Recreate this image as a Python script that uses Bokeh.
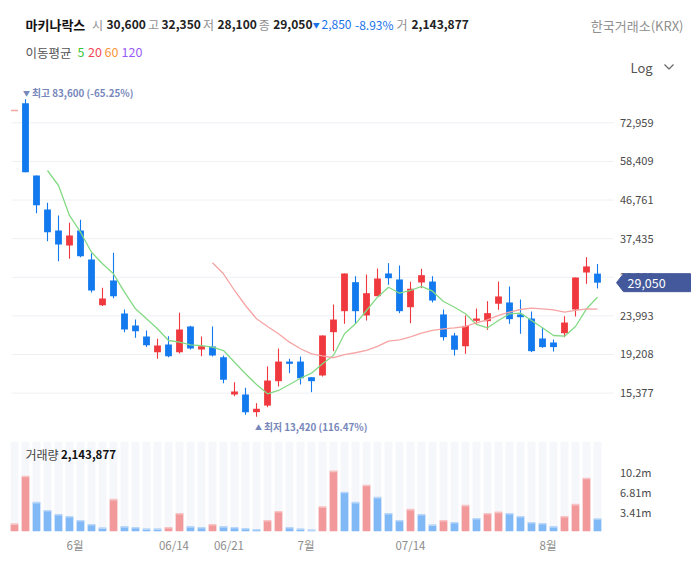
import math
from bokeh.plotting import figure
from bokeh.models import Range1d, FixedTicker, ColumnDataSource
from bokeh.layouts import column
from bokeh.embed import file_html
from bokeh.resources import INLINE
from bokeh.core.properties import value

NAN = float("nan")

# ------------------------------------------------------------------ data
stock_name = "마키나락스"
exchange = "한국거래소(KRX)"
ma_periods = ["5", "20", "60", "120"]

opens = [NAN, 81700, 53850, 44280, 39230, 35980, 39230, 33200, 25510, 29420,
         24330, 22700, 21300, 19470, 20350, 19470, 22570, 19770, 20120, 18910,
         15260, 15260, 13780, 14310, 16470, 18440, 18440, 16850, 17020, 21840,
         24650, 29130, 24050, 26870, 30630, 29590, 25220, 29080, 29240, 24190,
         21430, 20140, 23320, 23270, 25730, 25920, 24190, 23630, 21060, 20580,
         21710, 24890, 30800, 30600]
highs = [NAN, 83600, 53850, 46020, 42780, 41010, 41730, 34420, 28200, 34500,
         24890, 23490, 22060, 21030, 21340, 24420, 22650, 21300, 22570, 19090,
         16370, 15850, 14510, 17930, 19880, 18740, 18980, 16850, 21430, 25620,
         30630, 30150, 30450, 31520, 32500, 32070, 29200, 31470, 30150, 24890,
         21760, 24050, 25030, 26110, 29240, 28420, 26360, 24600, 22400, 20940,
         23950, 29930, 33640, 32350]
lows = [NAN, 54900, 43350, 36890, 32880, 33340, 33640, 27460, 25400, 26560,
        21840, 21140, 20040, 18740, 18910, 19320, 19770, 19020, 18980, 16280,
        15100, 13570, 13420, 14180, 15970, 17250, 16160, 15460, 16920, 19580,
        22920, 22920, 23360, 26870, 28700, 24370, 23000, 28140, 25920, 20820,
        19090, 19280, 22830, 22140, 24850, 22920, 21640, 19470, 19970, 19540,
        21220, 23900, 28860, 28100]
closes = [NAN, 54900, 45400, 38850, 36200, 38120, 33840, 27770, 26510, 26870,
          22180, 21960, 20260, 20220, 19020, 22180, 19880, 20140, 19090, 16600,
          15520, 13780, 14050, 16530, 18440, 18200, 16750, 16470, 21430, 23490,
          30630, 24650, 27340, 29750, 29800, 24650, 28050, 30330, 26210, 21220,
          19740, 22650, 23630, 24370, 26830, 23540, 23810, 19580, 20040, 20040,
          23090, 29930, 31900, 29050]

ma5 = [NAN, NAN, NAN, 55430, 50840, 42780, 38850, 34620, 32390, 30570,
       27500, 24990, 23600, 22270, 20820, 20620, 20310, 20220, 20050, 19650,
       18370, 17190, 16160, 15310, 15610, 16160, 16750, 17250, 18200, 19090,
       21640, 22920, 24750, 26720, 28300, 27340, 27770, 28420, 27660, 26060,
       25220, 24280, 22830, 22400, 23360, 24280, 24370, 23360, 22400, 21430,
       21340, 22570, 24990, 26720]
ma20 = [78300, NAN, NAN, NAN, NAN, NAN, NAN, NAN, NAN, NAN,
        NAN, NAN, NAN, NAN, NAN, NAN, NAN, NAN, 32570, 30570,
        27770, 25470, 23600, 22570, 21640, 20620, 19850, 19280, 19060, 18850,
        19200, 19400, 19660, 20120, 20740, 20900, 21250, 21710, 22060, 22270,
        22400, 22570, 23060, 23460, 24050, 24510, 24890, 25080, 24990, 24850,
        24510, 24750, 24990, 24930]

volumes_m = [1.26, 9.43, 4.94, 3.56, 2.87, 2.53, 1.84, 1.15, 0.57, 5.46,
             0.80, 0.63, 0.40, 0.40, 0.63, 3.05, 0.80, 0.63, 1.15, 0.80,
             0.63, 0.46, 0.29, 1.84, 3.39, 0.63, 0.40, 0.23, 4.20, 10.3,
             6.67, 4.94, 7.87, 5.80, 3.05, 1.84, 3.74, 2.87, 1.09, 1.84,
             1.49, 4.43, 2.18, 3.05, 3.28, 3.05, 2.53, 1.49, 1.32, 0.80,
             2.53, 4.60, 9.08, 2.143877]
volume_up = [1, 1, 0, 0, 0, 0, 0, 0, 0, 1,
             0, 0, 0, 0, 1, 1, 0, 0, 1, 0,
             0, 0, 0, 1, 1, 0, 0, 0, 1, 1,
             0, 0, 1, 0, 0, 0, 1, 0, 0, 1,
             0, 1, 0, 1, 1, 0, 0, 0, 0, 0,
             1, 1, 1, 0]

price_ticks = [15377, 19208, 23993, 29969, 37435, 46761, 58409, 72959]
date_tick_pos = [5.5, 14.5, 19.5, 26.5, 36, 48.5]
date_tick_labels = ["6월", "06/14", "06/21", "7월", "07/14", "8월"]
vol_ticks = [3405000, 6810000, 10215000]
vol_tick_labels = ["3.41m", "6.81m", "10.2m"]

# ------------------------------------------------------------------ style / geometry
FONT = "Noto Sans CJK KR"
RED, BLUE = "#f0393e", "#1279ee"
VRED, VBLUE = "#f29a9b", "#81b9f6"
VRED_CAP, VBLUE_CAP = "#f7c4c5", "#b9d7fa"
MA5_C, MA20_C = "#84da84", "#f6a4a4"
GRID_C = "#eef0f4"
TICK_C = "#4a4a4a"

FIG_W = 695
HEAD_H, PRICE_H = 80, 357
VOL_TOPB, VOL_FRAME_H, VOL_BOTB = 4, 90, 38
VOL_H = VOL_TOPB + VOL_FRAME_H + VOL_BOTB
STEP = 11.0          # px per session
X_FIRST = 14.0       # page x of session 0
PLOT_L, PLOT_R = 11.0, 613.0   # page x extent of plotting area (grid)
LABEL_X = 619.5      # page x of right-hand tick labels

LOG_PX = 173.6       # px per ln unit on the price axis
REF_P, REF_Y = 72959.0, 122.3


def price_at(page_y):
    return REF_P * math.exp((REF_Y - page_y) / LOG_PX)


def ix(page_x):
    return (page_x - X_FIRST) / STEP


x_range = Range1d(ix(0), ix(FIG_W))

# ------------------------------------------------------------------ header
head = figure(width=FIG_W, height=HEAD_H, x_range=Range1d(0, FIG_W),
              y_range=Range1d(HEAD_H, 0), output_backend="svg",
              toolbar_location=None, min_border=0,
              x_axis_location=None, y_axis_location=None)
head.outline_line_color = None
head.grid.visible = False

last = len(closes) - 1
o, h, l, c = opens[last], highs[last], lows[last], closes[last]
prev = closes[last - 1]
chg = c - prev
pct = chg / prev * 100
vol_last = int(round(volumes_m[last] * 1e6))


def htext(txt, px, py, size="13px", color="#333333", style="normal",
          align="left"):
    head.text(x=[px], y=[py], text=[txt], text_font=value(FONT),
              text_font_size=size, text_color=color, text_font_style=style,
              text_align=align, text_baseline="middle")


GRAY = "#8f8f8f"
VAL = "#222222"
CHG = "#1a73e8"
HY = 24
LS, VS = "12px", "12px"
htext(stock_name, 25, HY, "13px", "#141414", "bold")
htext("시", 91.5, HY, LS, GRAY)
htext(f"{o:,}", 106, HY, VS, VAL, "bold")
htext("고", 147.5, HY, LS, GRAY)
htext(f"{h:,}", 161, HY, VS, VAL, "bold")
htext("저", 202.5, HY, LS, GRAY)
htext(f"{l:,}", 217, HY, VS, VAL, "bold")
htext("종", 258.3, HY, LS, GRAY)
htext(f"{c:,}", 272.7, HY, VS, VAL, "bold")
htext("▼" if chg < 0 else "▲", 312.3, HY + 0.5, "7px", CHG)
htext(f"{abs(chg):,}", 321, HY, VS, CHG)
htext(f"{pct:.2f}%", 354.5, HY, VS, CHG)
htext("거", 396, HY, LS, GRAY)
htext(f"{vol_last:,}", 411, HY, VS, VAL, "bold")
htext(exchange, 683, 25, "13px", GRAY, align="right")

htext("이동평균", 25, 51.5, "12.5px", "#555555")
ma_colors = ["#36c336", "#f5475a", "#f7953a", "#9a5cf5"]
ma_x = [77, 87.5, 104, 121]
for t, col, px in zip(ma_periods, ma_colors, ma_x):
    htext(t, px, 51.5, "12.5px", col)

htext("Log", 630, 66.5, "13px", "#555555")
head.line(x=[664, 668.5, 673], y=[64, 68.5, 64], line_color="#666666",
          line_width=1.2)

# ------------------------------------------------------------------ price panel
top_page = HEAD_H
bot_page = HEAD_H + PRICE_H
pp = figure(width=FIG_W, height=PRICE_H, x_range=x_range,
            y_range=Range1d(price_at(bot_page), price_at(top_page)),
            y_axis_type="log", y_axis_location=None, x_axis_location=None,
            output_backend="svg", toolbar_location=None, min_border=0)
pp.outline_line_color = None
pp.grid.visible = False

# horizontal grid + tick labels at the price ticks
pp.segment(x0=ix(PLOT_L), x1=ix(PLOT_R), y0=price_ticks, y1=price_ticks,
           line_color=GRID_C, line_width=1)
pp.text(x=ix(LABEL_X), y=price_ticks, text=[f"{t:,}" for t in price_ticks],
        text_font=value(FONT), text_font_size="11px", text_color=TICK_C,
        text_align="left", text_baseline="middle")

idx = list(range(len(closes)))
cx, cl_, ch_, ctop, cbot, ccol = [], [], [], [], [], []
for i in idx:
    if math.isnan(opens[i]):
        continue
    cx.append(i)
    ch_.append(highs[i])
    cl_.append(lows[i])
    ctop.append(max(opens[i], closes[i]))
    cbot.append(min(opens[i], closes[i]))
    ccol.append(RED if closes[i] >= opens[i] else BLUE)
csrc = ColumnDataSource(dict(x=cx, high=ch_, low=cl_, top=ctop, bottom=cbot,
                             color=ccol))
pp.segment(x0="x", y0="low", x1="x", y1="high", line_color="color",
           line_width=1.1, source=csrc)
pp.vbar(x="x", width=0.62, top="top", bottom="bottom", fill_color="color",
        line_color=None, source=csrc)

pp.line(x=idx, y=ma5, line_color=MA5_C, line_width=1.3)
pp.line(x=idx, y=ma20, line_color=MA20_C, line_width=1.3)


def isolated(series):
    xs, ys = [], []
    for i, v in enumerate(series):
        if math.isnan(v):
            continue
        left = i == 0 or math.isnan(series[i - 1])
        right = i == len(series) - 1 or math.isnan(series[i + 1])
        if left and right:
            xs.append(i)
            ys.append(v)
    return xs, ys


jx, jy = isolated(ma20)
pp.scatter(x=jx, y=jy, marker="dash", size=7, line_color=MA20_C,
           line_width=1.6)

imax = max((i for i in idx if not math.isnan(highs[i])), key=lambda i: highs[i])
imin = min((i for i in idx if not math.isnan(lows[i])), key=lambda i: lows[i])
hi_v, lo_v = highs[imax], lows[imin]
MARK_C = "#7787bb"


def extreme_label(i, v, arrow, word, dx, dy):
    pp.text(x=[i], y=[v], text=[arrow], text_font=value(FONT),
            text_font_size="7px", text_color=MARK_C, text_align="left",
            text_baseline="middle", x_offset=dx, y_offset=dy)
    pp.text(x=[i], y=[v], text=[f"{word} {v:,} ({(c / v - 1) * 100:.2f}%)"],
            text_font=value(FONT), text_font_size="9.8px",
            text_font_style="bold", text_color=MARK_C, text_align="left",
            text_baseline="middle", x_offset=dx + 9, y_offset=dy)


extreme_label(imax, hi_v, "▼", "최고", -2.5, -6)
extreme_label(imin, lo_v, "▲", "최저", -1.5, 10.5)

# current price tag (arrow box pointing at the axis)
TAG_C = "#44599b"
kk = math.exp(9 / LOG_PX)
tip, base, right = ix(616), ix(623), ix(690)
pp.patch(x=[tip, base, right, right, base],
         y=[c, c * kk, c * kk, c / kk, c / kk],
         fill_color=TAG_C, line_color=TAG_C, line_width=1)
pp.text(x=[ix(627)], y=[c], text=[f"{c:,}"], text_font=value(FONT),
        text_font_size="12.5px", text_color="white", text_align="left",
        text_baseline="middle")

# ------------------------------------------------------------------ volume panel
VOL_PX_PER_M = 5.84
VOL_TOP = VOL_FRAME_H / VOL_PX_PER_M * 1e6
vol_frame_bottom_page = HEAD_H + PRICE_H + VOL_TOPB + VOL_FRAME_H

vf = figure(width=FIG_W, height=VOL_H, x_range=x_range,
            y_range=Range1d(0, VOL_TOP), y_axis_location=None,
            x_axis_location="below", output_backend="svg",
            toolbar_location=None, min_border=0,
            min_border_top=VOL_TOPB, min_border_bottom=VOL_BOTB)
vf.outline_line_color = None
vf.grid.visible = False


def vy(page_y):
    return (vol_frame_bottom_page - page_y) / VOL_PX_PER_M * 1e6


vols = [v * 1e6 for v in volumes_m]
vcol = [VRED if u else VBLUE for u in volume_up]
vcap = [VRED_CAP if u else VBLUE_CAP for u in volume_up]
vf.vbar(x=idx, width=0.72, top=VOL_TOP, bottom=0, fill_color="#f6f7fb",
        line_color=None)
vf.vbar(x=idx, width=0.7, top=vols, bottom=0, fill_color=vcol, line_color=None)
vf.rect(x=idx, y=vols, width=0.7, height=1.6, height_units="screen",
        fill_color=vcap, line_color=None)

vf.text(x=ix(LABEL_X), y=vol_ticks, text=vol_tick_labels,
        text_font=value(FONT), text_font_size="11px", text_color=TICK_C,
        text_align="left", text_baseline="middle")

xax = vf.xaxis[0]
xax.ticker = FixedTicker(ticks=date_tick_pos, minor_ticks=[])
xax.major_label_overrides = dict(zip(date_tick_pos, date_tick_labels))
xax.axis_line_color = None
xax.major_tick_line_color = None
xax.minor_tick_line_color = None
xax.major_tick_out = 0
xax.minor_tick_out = 0
xax.major_label_text_font = FONT
xax.major_label_text_font_size = "11.5px"
xax.major_label_text_color = "#8c8c8c"
xax.major_label_standoff = 5

vf.text(x=[ix(25)], y=[vy(454)], text=["거래량"], text_font=value(FONT),
        text_font_size="12px", text_color="#444444", text_align="left",
        text_baseline="middle")
vf.text(x=[ix(60.5)], y=[vy(454)], text=[f"{vol_last:,}"],
        text_font=value(FONT), text_font_size="11.5px",
        text_font_style="bold", text_color="#111111", text_align="left",
        text_baseline="middle")

layout = column(head, pp, vf)
open("out.html", "w").write(file_html(layout, INLINE))
